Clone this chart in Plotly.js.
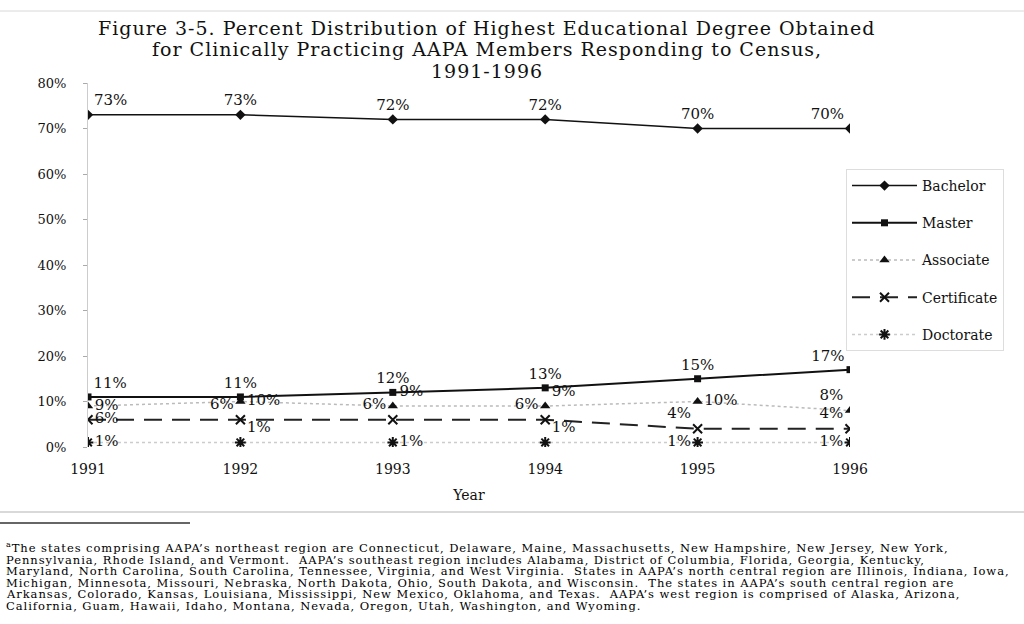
<!DOCTYPE html>
<html>
<head>
<meta charset="utf-8">
<script src="https://cdn.plot.ly/plotly-3.0.1.min.js"></script>
<style>html,body{margin:0;padding:0;background:#fff;}#chart{width:1024px;height:624px;}</style>
</head>
<body>
<div id="chart"></div>
<script>
const years = [1991, 1992, 1993, 1994, 1995, 1996];
const bachelor = [73, 73, 72, 72, 70, 70];
const master = [11, 11, 12, 13, 15, 17];
const associate = [9, 10, 9, 9, 10, 8];
const certificate = [6, 6, 6, 6, 4, 4];
const doctorate = [1, 1, 1, 1, 1, 1];
const seriesNames = ['Bachelor', 'Master', 'Associate', 'Certificate', 'Doctorate'];
const yTicks = [0, 10, 20, 30, 40, 50, 60, 70, 80];
const yTickText = ['0%', '10%', '20%', '30%', '40%', '50%', '60%', '70%', '80%'];
const titleLines = [
  'Figure 3-5. Percent Distribution of Highest Educational Degree Obtained',
  'for Clinically Practicing AAPA Members Responding to Census,',
  '1991-1996'
];
const xTitle = 'Year';
const footnoteLines = [
  '<sup>a</sup>The states comprising AAPA\u2019s northeast region are Connecticut, Delaware, Maine, Massachusetts, New Hampshire, New Jersey, New York,',
  'Pennsylvania, Rhode Island, and Vermont.  AAPA\u2019s southeast region includes Alabama, District of Columbia, Florida, Georgia, Kentucky,',
  'Maryland, North Carolina, South Carolina, Tennessee, Virginia, and West Virginia.  States in AAPA\u2019s north central region are Illinois, Indiana, Iowa,',
  'Michigan, Minnesota, Missouri, Nebraska, North Dakota, Ohio, South Dakota, and Wisconsin.  The states in AAPA\u2019s south central region are',
  'Arkansas, Colorado, Kansas, Louisiana, Mississippi, New Mexico, Oklahoma, and Texas.  AAPA\u2019s west region is comprised of Alaska, Arizona,',
  'California, Guam, Hawaii, Idaho, Montana, Nevada, Oregon, Utah, Washington, and Wyoming.'
];

const pct = arr => arr.map(v => v + '%');
const SERIF = 'DejaVu Serif, Liberation Serif, serif';
const labelFont = {family: SERIF, size: 15, color: '#111'};

const traces = [
  {
    x: years, y: bachelor, name: seriesNames[0], legendgroup: 'a',
    mode: 'lines+markers+text', text: pct(bachelor),
    textposition: ['top right', 'top center', 'top center', 'top center', 'top center', 'top left'],
    textfont: labelFont,
    line: {color: '#111', width: 1.5},
    marker: {symbol: 'diamond', size: 8, color: '#111'}
  },
  {
    x: years, y: master, name: seriesNames[1], legendgroup: 'b',
    mode: 'lines+markers+text', text: pct(master),
    textposition: ['top right', 'top center', 'top center', 'top center', 'top center', 'top left'],
    textfont: labelFont,
    line: {color: '#111', width: 2},
    marker: {symbol: 'square', size: 7, color: '#111'}
  },
  {
    x: years, y: associate, name: seriesNames[2], legendgroup: 'c',
    mode: 'lines+markers+text', text: pct(associate),
    textposition: ['middle right', 'middle right', 'top right', 'top right', 'middle right', 'top left'],
    textfont: labelFont,
    line: {color: '#bbbbbb', width: 1.5, dash: 'dot'},
    marker: {symbol: 'triangle-up', size: 9, color: '#111'}
  },
  {
    x: years, y: certificate, name: seriesNames[3], legendgroup: 'd',
    mode: 'lines+markers+text', text: pct(certificate),
    textposition: ['middle right', 'top left', 'top left', 'top left', 'top left', 'top left'],
    textfont: labelFont,
    line: {color: '#222', width: 2, dash: '18px,10px'},
    marker: {symbol: 'x-thin-open', size: 9, color: '#111', line: {width: 2, color: '#111'}}
  },
  {
    x: years, y: doctorate, name: seriesNames[4], legendgroup: 'e',
    mode: 'lines+markers+text', text: pct(doctorate),
    textposition: ['middle right', 'top right', 'middle right', 'top right', 'middle left', 'middle left'],
    textfont: labelFont,
    line: {color: '#cccccc', width: 1.5, dash: 'dot'},
    marker: {symbol: 'asterisk-open', size: 9, color: '#111', line: {width: 2, color: '#111'}}
  }
];

// pixel helpers for layout placement (plot area: x 88..850, y 83..447)
const px2x = px => (px - 88) / 762;
const py2y = py => (447 - py) / 364;

const titleY = [28, 49, 71];
const annotations = titleLines.map((t, i) => ({
  text: '<span style="letter-spacing:1px">' + t + '</span>',
  xref: 'paper', yref: 'paper',
  x: px2x(487), y: py2y(titleY[i]),
  xanchor: 'center', yanchor: 'middle', showarrow: false,
  font: {family: SERIF, size: 19, color: '#111'}
})).concat(footnoteLines.map((t, i) => ({
  text: '<span style="letter-spacing:0.95px">' + t + '</span>',
  xref: 'paper', yref: 'paper',
  x: px2x(4), y: py2y(557 + i * 11.6),
  xanchor: 'left', yanchor: 'bottom', showarrow: false,
  font: {family: SERIF, size: 11.5, color: '#000'}
})));

const layout = {
  width: 1024, height: 624,
  paper_bgcolor: '#fff', plot_bgcolor: '#fff',
  margin: {l: 88, r: 174, t: 83, b: 177},
  xaxis: {
    range: [1991, 1996], tickvals: years, ticktext: years.map(String),
    showgrid: false, zeroline: false, showline: false, ticks: '',
    ticklabelstandoff: 12,
    tickfont: {family: SERIF, size: 14, color: '#111'},
    title: {text: xTitle, font: {family: SERIF, size: 14, color: '#111'}, standoff: 14}
  },
  yaxis: {
    range: [0, 80], tickvals: yTicks, ticktext: yTickText,
    showgrid: false, zeroline: false, showline: true, linecolor: '#cccccc', linewidth: 1,
    ticks: 'outside', ticklen: 4, tickcolor: '#aaaaaa',
    ticklabelstandoff: 14,
    tickfont: {family: SERIF, size: 13, color: '#111'}
  },
  showlegend: true,
  legend: {
    x: px2x(846), xanchor: 'left', y: py2y(169), yanchor: 'top',
    bordercolor: '#dddddd', borderwidth: 1, bgcolor: '#fff',
    font: {family: SERIF, size: 14, color: '#111'},
    tracegroupgap: 16, itemwidth: 65
  },
  shapes: [
    {type: 'line', xref: 'paper', yref: 'paper', x0: px2x(0), x1: px2x(1024), y0: py2y(11), y1: py2y(11), line: {color: '#d8d8d8', width: 1}},
    {type: 'line', xref: 'paper', yref: 'paper', x0: px2x(0), x1: px2x(1024), y0: py2y(512), y1: py2y(512), line: {color: '#cccccc', width: 1.5}},
    {type: 'line', xref: 'paper', yref: 'paper', x0: px2x(0), x1: px2x(190), y0: py2y(523), y1: py2y(523), line: {color: '#333', width: 1.5}}
  ],
  annotations: annotations
};

Plotly.newPlot('chart', traces, layout, {displayModeBar: false, staticPlot: true});
</script>
</body>
</html>
